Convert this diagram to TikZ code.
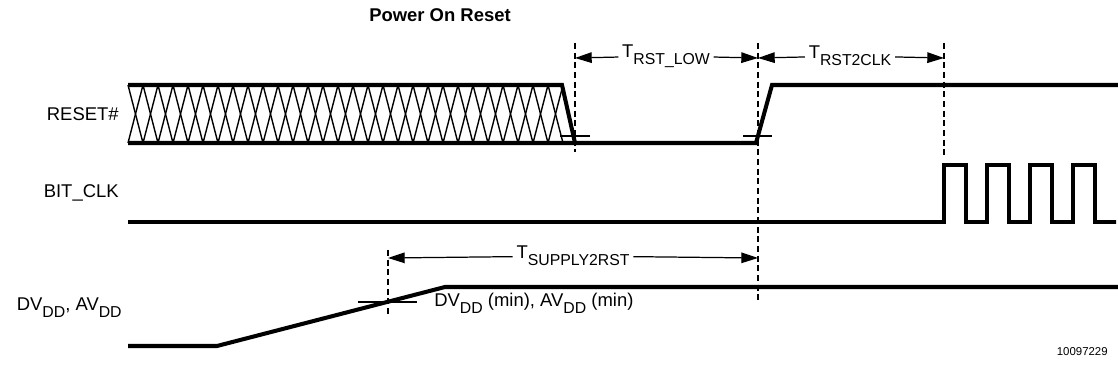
\documentclass[tikz,border=0pt]{standalone}
\usepackage{fontspec}
\setmainfont{Liberation Sans}
\usetikzlibrary{arrows.meta}
\newcommand{\lowsub}[1]{\raisebox{-0.75ex}{\fontsize{9}{10}\selectfont #1}}

\begin{document}
\begin{tikzpicture}[x=0.02cm,y=-0.02cm,
    >={Triangle[length=9.5pt,width=6pt]},
    sig/.style={line width=2.3pt},
    hatch/.style={line width=0.8pt},
    mark line/.style={line width=0.7pt},
    guide/.style={line width=0.6pt,dash pattern=on 3.5pt off 2pt},
    lbl/.style={font=\fontsize{10.5}{12}\selectfont,inner sep=0pt},
    dim/.style={font=\fontsize{10.5}{12}\selectfont,inner sep=2pt}]
    \useasboundingbox (0,0) rectangle (1118,377);
    \node[lbl,font=\fontsize{10.5}{12}\selectfont\bfseries] (title) at (440,15) {Power On Reset};
    % signal names
    \node[lbl,anchor=east] (rst) at (119,114) {RESET\#};
    \node[lbl,anchor=east] (clk) at (119,193) {BIT\_CLK};
    \node[lbl,anchor=east] (vdd) at (122,308) {DV\lowsub{DD}, AV\lowsub{DD}};
    % RESET#
    \foreach \k in {0,...,28} {
        \draw[hatch] (128+15*\k,85) -- (143+15*\k,143);
        \draw[hatch] (128+15*\k,143) -- (143+15*\k,85);
    }
    \draw[sig] (128,85) -- (562,85) -- (575,143);
    \draw[sig] (128,143) -- (756,143) -- (772,85) -- (1118,85);
    \draw[mark line] (560,136) -- (590,136);
    \draw[mark line] (743,136) -- (772,136);
    % BIT_CLK
    \draw[sig] (128,222) -- (944,222)
        \foreach \k in {0,...,3} { -- (944+43*\k,165) -- (966+43*\k,165) -- (966+43*\k,222) -- (987+43*\k,222) }
        -- (1108,222);
    % supplies
    \draw[sig] (128,346) -- (217,346) -- (445,287) -- (1118,287);
    \draw[mark line] (358,302) -- (417,302);
    \node[lbl,anchor=west] (vmin) at (434,303) {DV\lowsub{DD} (min), AV\lowsub{DD} (min)};
    % guides
    \coordinate (g1) at (575,58);
    \coordinate (g2) at (758,58);
    \coordinate (g3) at (944,58);
    \coordinate (g0) at (388,258);
    \coordinate (g2b) at (758,258);
    \draw[guide] (575,43) -- (575,152);
    \draw[guide] (758,43) -- (758,300);
    \draw[guide] (944,43) -- (944,155);
    \draw[guide] (388,250) -- (388,315);
    % timing
    \node[dim] (trstlow) at (666,56) {T\lowsub{RST\_LOW}};
    \draw[->,mark line] (trstlow) -- (g1);
    \draw[->,mark line] (trstlow) -- (g2);
    \node[dim] (trst2clk) at (850,56) {T\lowsub{RST2CLK}};
    \draw[->,mark line] (trst2clk) -- (g2);
    \draw[->,mark line] (trst2clk) -- (g3);
    \node[dim] (tsup) at (573,256) {T\lowsub{SUPPLY2RST}};
    \draw[->,mark line] (tsup) -- (g0);
    \draw[->,mark line] (tsup) -- (g2b);
    \node[lbl,anchor=east,font=\fontsize{6.5}{7}\selectfont] (fig) at (1108,352) {10097229};
\end{tikzpicture}
\end{document}
